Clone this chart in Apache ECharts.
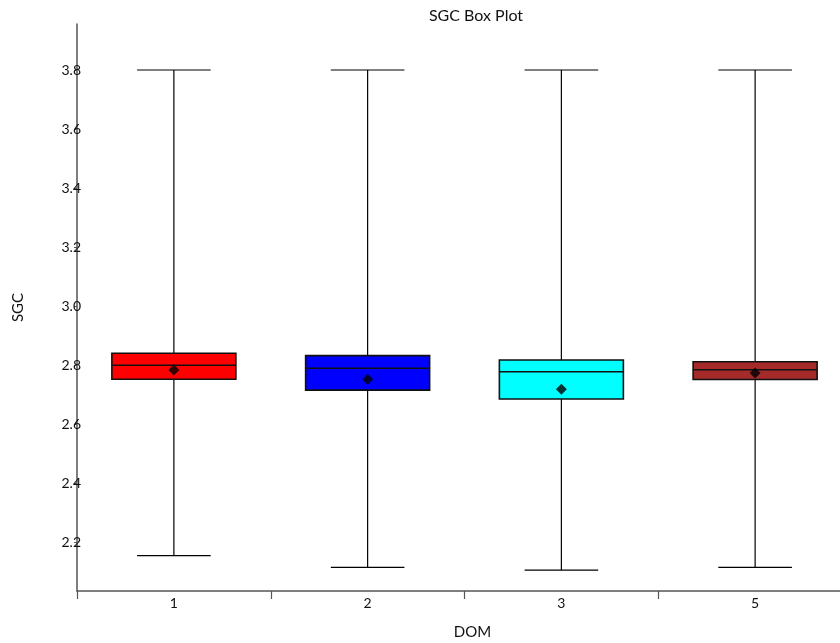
<!DOCTYPE html>
<html>
<head>
<meta charset="utf-8">
<title>SGC Box Plot</title>
<script src="https://cdn.jsdelivr.net/npm/echarts@6/dist/echarts.min.js"></script>
<style>
  html, body { margin: 0; padding: 0; background: #fff; }
  #chart { width: 840px; height: 643px; }
</style>
</head>
<body>
<div id="chart"></div>
<script>
// DOM groups along the x axis
const categories = ['1', '2', '3', '5'];
// Box statistics per group
const lowWhisker = [2.154, 2.114, 2.105, 2.114];
const q1 = [2.752, 2.715, 2.685, 2.751];
const median = [2.799, 2.789, 2.777, 2.784];
const q3 = [2.840, 2.832, 2.817, 2.811];
const highWhisker = [3.8, 3.8, 3.8, 3.8];
const mean = [2.783, 2.752, 2.718, 2.773];
const boxColors = ['#ff0000', '#0000ff', '#00ffff', '#a52a2a'];
// Y tick labels
const yTicks = [2.2, 2.4, 2.6, 2.8, 3.0, 3.2, 3.4, 3.6, 3.8];

const FONT = 'Lato';

const boxData = categories.map((c, i) => [i, lowWhisker[i], q1[i], median[i], q3[i], highWhisker[i]]);
const meanData = categories.map((c, i) => [i, mean[i]]);

function renderBox(params, api) {
  const idx = api.value(0);
  const pLow = api.coord([idx, api.value(1)]);
  const pQ1 = api.coord([idx, api.value(2)]);
  const pMed = api.coord([idx, api.value(3)]);
  const pQ3 = api.coord([idx, api.value(4)]);
  const pHigh = api.coord([idx, api.value(5)]);
  const band = api.size([1, 0])[0];
  const boxW = band * 0.64;
  const capW = band * 0.38;
  const x = pMed[0];
  const lineStyle = { stroke: '#000', lineWidth: 1.2 };
  return {
    type: 'group',
    children: [
      { type: 'line', shape: { x1: x, y1: pHigh[1], x2: x, y2: pQ3[1] }, style: lineStyle },
      { type: 'line', shape: { x1: x, y1: pQ1[1], x2: x, y2: pLow[1] }, style: lineStyle },
      { type: 'line', shape: { x1: x - capW / 2, y1: pHigh[1], x2: x + capW / 2, y2: pHigh[1] }, style: lineStyle },
      { type: 'line', shape: { x1: x - capW / 2, y1: pLow[1], x2: x + capW / 2, y2: pLow[1] }, style: lineStyle },
      {
        type: 'rect',
        shape: { x: x - boxW / 2, y: pQ3[1], width: boxW, height: pQ1[1] - pQ3[1] },
        style: { fill: boxColors[idx], stroke: '#111', lineWidth: 1.6 }
      },
      { type: 'line', shape: { x1: x - boxW / 2, y1: pMed[1], x2: x + boxW / 2, y2: pMed[1] }, style: { stroke: '#111', lineWidth: 1.6 } }
    ]
  };
}

const chart = echarts.init(document.getElementById('chart'), null, { renderer: 'canvas' });
chart.setOption({
  animation: false,
  backgroundColor: '#fff',
  title: {
    text: 'SGC Box Plot',
    left: 471,
    textAlign: 'center',
    top: 3,
    textStyle: { fontFamily: FONT, fontSize: 16, fontWeight: 'normal', color: '#111' }
  },
  grid: { left: 77, top: 24, right: -12, bottom: 52, containLabel: false, outerBoundsMode: 'none' },
  xAxis: {
    type: 'category',
    data: categories,
    name: 'DOM',
    nameLocation: 'middle',
    nameGap: 34,
    nameTextStyle: { fontFamily: FONT, fontSize: 15, color: '#111', padding: [0, 0, 0, 16] },
    axisLine: { lineStyle: { color: '#555', width: 1.5 } },
    axisTick: { show: true, length: 8, lineStyle: { color: '#555', width: 1.2 } },
    axisLabel: { fontFamily: FONT, fontSize: 14, color: '#111', margin: 5 },
    splitLine: { show: false }
  },
  yAxis: {
    type: 'value',
    min: 2.034,
    max: 3.956,
    name: 'SGC',
    nameLocation: 'middle',
    nameGap: 51,
    nameRotate: 90,
    nameTextStyle: { fontFamily: FONT, fontSize: 15, color: '#111' },
    axisLine: { show: true, lineStyle: { color: '#555', width: 1.5 } },
    axisTick: { show: true, length: 3, customValues: yTicks, lineStyle: { color: '#555' } },
    axisLabel: {
      fontFamily: FONT, fontSize: 14, color: '#111', margin: -4,
      customValues: yTicks,
      formatter: v => v.toFixed(1)
    },
    splitLine: { show: false }
  },
  series: [
    {
      type: 'custom',
      renderItem: renderBox,
      encode: { x: 0, y: [1, 2, 3, 4, 5] },
      data: boxData,
      z: 2
    },
    {
      type: 'scatter',
      symbol: 'diamond',
      symbolSize: 11,
      itemStyle: { color: '#000' },
      data: meanData,
      z: 5
    }
  ]
});
</script>
</body>
</html>
